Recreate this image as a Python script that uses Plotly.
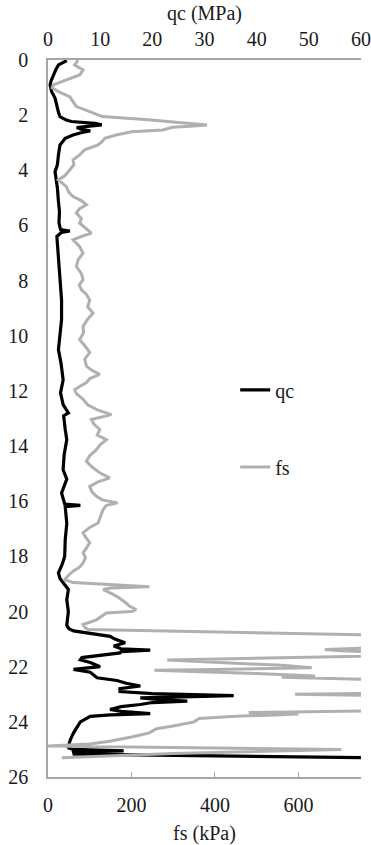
import plotly.graph_objects as go

# ---- data ----
qc_depth = [0.02, 0.05, 0.18, 0.35, 0.54, 0.75, 0.9, 1.15, 1.38, 1.55, 1.74, 1.9, 2.05, 2.18, 2.23,
            2.30, 2.35, 2.40, 2.45, 2.52, 2.57, 2.63, 2.72, 2.84, 3.08, 3.44, 3.8, 4.05, 4.3, 4.64,
            5.13, 5.5, 5.9, 6.15, 6.2, 6.25, 6.4, 6.9, 7.49, 8.1, 8.7, 9.42, 10.0, 10.5, 11.0,
            11.6, 12.07, 12.5, 12.8, 12.9, 13.4, 13.77, 14.3, 14.86, 15.2, 15.7, 16.1, 16.15, 16.2,
            16.8, 17.4, 18.0, 18.3, 18.6, 18.8, 18.96, 19.2, 19.57, 20.0, 20.5, 20.62, 20.7, 20.8,
            20.9, 21.0, 21.13, 21.25, 21.35, 21.4, 21.45, 21.5, 21.6, 21.67, 21.75, 21.85, 22.0,
            22.05, 22.1, 22.2, 22.3, 22.4, 22.5, 22.6, 22.7, 22.75, 22.8, 22.9, 22.98, 23.05, 23.1,
            23.13, 23.2, 23.25, 23.3, 23.37, 23.45, 23.55, 23.62, 23.7, 23.75, 23.8, 24.0, 24.2,
            24.4, 24.6, 24.75, 24.95, 25.0, 25.05, 25.1, 25.17, 25.3]
qc_values = [3.6, 3.3, 2.0, 1.5, 1.0, 0.6, 0.4, 0.7, 1.35, 1.5, 1.8, 2.0, 2.3, 3.5, 4.5,
             9.0, 10.3, 8.0, 5.5, 6.5, 8.1, 6.5, 4.8, 3.3, 2.3, 2.0, 1.8, 1.35, 1.6, 1.8,
             2.0, 2.2, 2.1, 2.4, 4.2, 2.6, 1.7, 1.9, 2.0, 2.3, 2.6, 2.6, 2.3, 2.0, 2.5,
             2.9, 2.4, 2.9, 3.9, 3.0, 3.3, 3.6, 3.1, 2.9, 3.6, 2.6, 3.2, 6.2, 3.3,
             3.6, 3.3, 3.2, 2.7, 2.0, 2.3, 2.9, 3.9, 3.6, 3.9, 3.6, 4.0, 4.9, 8.0,
             11.9, 12.8, 14.8, 12.6, 14.0, 19.6, 14.0, 13.8, 9.0, 6.5, 6.2, 8.1, 10.0,
             7.0, 4.9, 8.1, 8.7, 9.4, 13.2, 15.0, 17.7, 15.5, 13.8, 13.8, 20.0, 35.6, 25.0,
             17.7, 22.0, 26.7, 20.0, 17.7, 14.0, 11.9, 14.0, 19.6, 12.0, 8.1, 6.2, 5.5,
             4.9, 4.4, 4.1, 4.0, 4.9, 14.5, 4.9, 5.0, 61.0]

fs_depth = [0.0, 0.08, 0.18, 0.36, 0.54, 0.72, 0.9, 1.0, 1.15, 1.33, 1.51, 1.69, 1.87, 2.05, 2.17,
            2.23, 2.30, 2.36, 2.40, 2.44, 2.54, 2.60, 2.72, 2.84, 2.95, 3.08, 3.26, 3.45, 3.62, 3.8,
            3.99, 4.2, 4.35, 4.59, 4.8, 4.95, 5.1, 5.25, 5.4, 5.55, 5.75, 5.92, 6.1, 6.28, 6.4,
            6.52, 6.75, 7.0, 7.25, 7.49, 7.75, 7.97, 8.15, 8.33, 8.5, 8.7, 8.95, 9.18, 9.4, 9.66,
            9.9, 10.14, 10.4, 10.6, 10.85, 11.1, 11.25, 11.4, 11.55, 11.7, 11.85, 11.96, 12.1,
            12.3, 12.5, 12.7, 12.86, 13.04, 13.2, 13.4, 13.6, 13.77, 13.95, 14.13, 14.35, 14.55,
            14.75, 14.97, 15.15, 15.3, 15.46, 15.65, 15.82, 15.95, 16.06, 16.15, 16.3, 16.55,
            16.79, 16.95, 17.15, 17.3, 17.5, 17.7, 17.87, 18.05, 18.24, 18.4, 18.54, 18.7, 18.84,
            18.95, 19.05, 19.1, 19.15, 19.2, 19.38, 19.5, 19.69, 19.8, 19.93, 20.0, 20.05, 20.2,
            20.3, 20.47, 20.6, 20.65, 20.86, 21.1, 21.33, 21.38, 21.42, 21.47, 21.55, 21.62,
            21.76, 21.95, 22.04, 22.1, 22.13, 22.25, 22.34, 22.38, 22.46, 22.6, 22.95, 23.0,
            23.04, 23.3, 23.6, 23.66, 23.72, 23.74, 23.8, 23.88, 24.0, 24.15, 24.25, 24.4, 24.55,
            24.7, 24.8, 24.88, 25.0, 25.15, 25.3]
fs_values = [72, 68, 64, 84, 76, 44, 13, 10, 25, 52, 60, 68, 100, 130, 240,
             290, 330, 381, 340, 298, 275, 200, 163, 136, 130, 120, 88, 75, 60, 62,
             52, 40, 25, 44, 50, 60, 80, 92, 75, 68, 80, 76, 90, 104, 80,
             60, 75, 84, 72, 68, 80, 84, 75, 80, 92, 100, 95, 108, 95, 84,
             85, 76, 90, 100, 88, 92, 105, 124, 100, 92, 75, 64, 68,
             84, 95, 120, 152, 104, 110, 124, 118, 140, 125, 116, 100, 92,
             105, 124, 148, 120, 100, 105, 116, 130, 167, 140, 132, 125,
             120, 100, 84, 90, 100, 92, 84, 90, 84, 75, 60, 48, 40,
             60, 200, 243, 150, 132, 156, 170, 187, 195, 211, 200, 140, 125,
             116, 84, 90, 96, 800, 950, 760, 663, 700, 800, 800, 750,
             286, 560, 632, 400, 255, 500, 640, 560, 760, 900, 850, 592,
             760, 900, 760, 481, 600, 560, 450, 362, 350, 300, 260, 243, 200,
             148, 100, 0, 703, 300, 33]

qc_ticks = [0, 10, 20, 30, 40, 50, 60]
fs_ticks = [0, 200, 400, 600]
depth_ticks = list(range(0, 27, 2))

FONT = "Times New Roman"
AXIS_GREY = "#a6a6a6"
FS = 20

fig = go.Figure()
fig.add_trace(go.Scatter(x=qc_values, y=qc_depth, mode="lines", name="qc",
                         line=dict(color="#000000", width=3.2), xaxis="x", yaxis="y",
                         legendgroup="a"))
fig.add_trace(go.Scatter(x=fs_values, y=fs_depth, mode="lines", name="fs",
                         line=dict(color="#b0b0b0", width=3), xaxis="x2", yaxis="y",
                         legendgroup="b"))

fig.update_layout(
    width=371, height=845,
    margin=dict(l=48, r=10, t=60, b=68, autoexpand=False),
    paper_bgcolor="white", plot_bgcolor="white",
    font=dict(family=FONT, size=FS, color="#1a1a1a"),
    showlegend=True,
    legend=dict(x=0.598, y=0.567, xanchor="left", yanchor="top",
                bgcolor="rgba(0,0,0,0)", font=dict(size=FS, family=FONT),
                traceorder="grouped", tracegroupgap=48),
    xaxis=dict(side="top", range=[0, 60], tickvals=qc_ticks, ticktext=[str(v) for v in qc_ticks],
               tickfont=dict(family=FONT, size=FS),
               title=dict(text="qc (MPa)", standoff=2, font=dict(size=FS, family=FONT)),
               showline=True, linecolor=AXIS_GREY, linewidth=1.5, showgrid=False,
               zeroline=False, ticks="", ticklabelstandoff=4),
    xaxis2=dict(side="bottom", overlaying="x", anchor="y", range=[0, 750],
                tickvals=fs_ticks, ticktext=[str(v) for v in fs_ticks],
                tickfont=dict(family=FONT, size=FS),
                title=dict(text="fs (kPa)", standoff=14, font=dict(size=FS, family=FONT)),
                showline=True, linecolor=AXIS_GREY, linewidth=1.5, showgrid=False,
                zeroline=False, ticks="inside", ticklen=5, tickcolor=AXIS_GREY, tickwidth=1,
                ticklabelstandoff=9),
    yaxis=dict(range=[26, 0], tickvals=depth_ticks, ticktext=[str(v) for v in depth_ticks],
               tickfont=dict(family=FONT, size=FS),
               showline=True, linecolor=AXIS_GREY, linewidth=1.5, showgrid=False,
               zeroline=False, ticks="", ticklabelstandoff=14),
)

fig.write_html("out.html")
